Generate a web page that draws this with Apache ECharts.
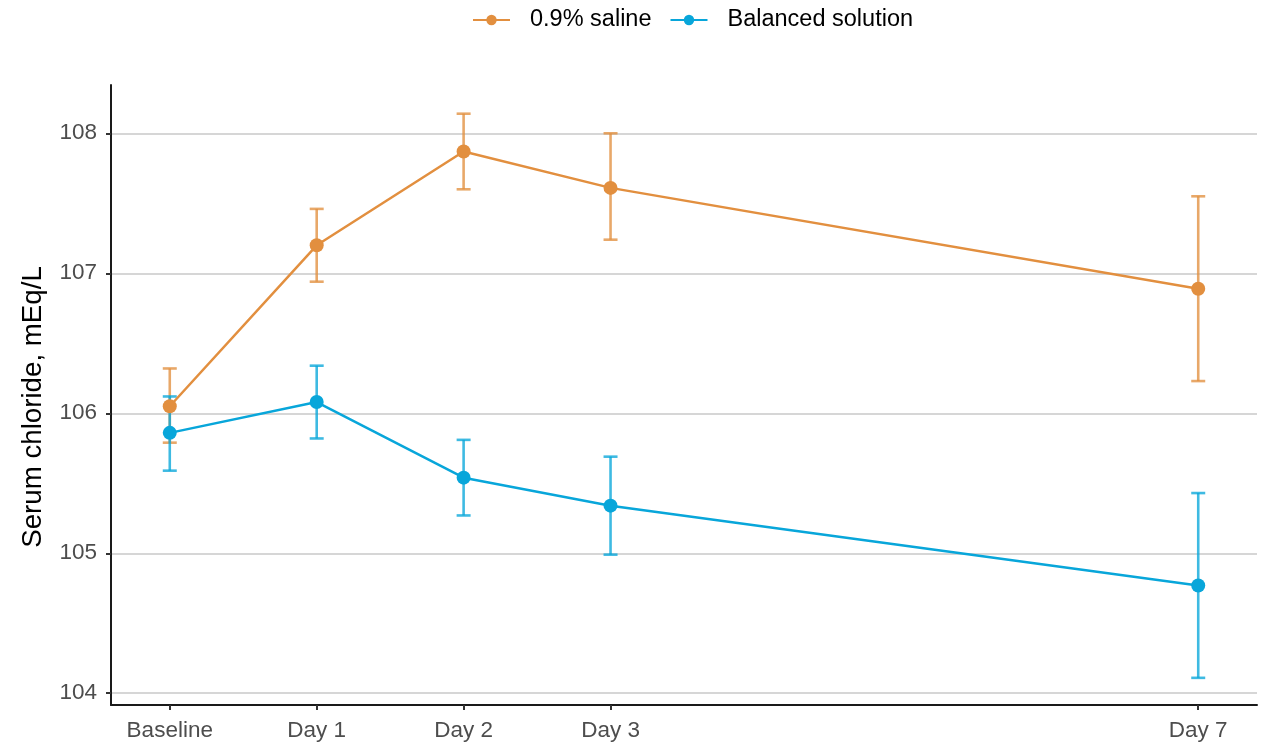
<!DOCTYPE html>
<html>
<head>
<meta charset="utf-8">
<script src="https://cdn.jsdelivr.net/npm/echarts@6/dist/echarts.min.js"></script>
<style>
  html, body { margin: 0; padding: 0; background: #fff; }
  #chart { width: 1268px; height: 744px; }
</style>
</head>
<body>
<div id="chart"></div>
<script>
// Time points (days from baseline) and their labels
const xPos = [0, 1, 2, 3, 7];
const xLabels = ['Baseline', 'Day 1', 'Day 2', 'Day 3', 'Day 7'];
const yTicks = [104, 105, 106, 107, 108];

// Serum chloride (mEq/L): mean with lower/upper interval bounds
const salineMean = [106.05, 107.20, 107.87, 107.61, 106.89];
const salineLow  = [105.79, 106.94, 107.60, 107.24, 106.23];
const salineHigh = [106.32, 107.46, 108.14, 108.00, 107.55];

const balancedMean = [105.86, 106.08, 105.54, 105.34, 104.77];
const balancedLow  = [105.59, 105.82, 105.27, 104.99, 104.11];
const balancedHigh = [106.12, 106.34, 105.81, 105.69, 105.43];

const ORANGE = '#E28F3F';
const BLUE = '#08A6DA';
const FONT = '"Liberation Sans", Arial, sans-serif';

function errorBarRenderer(color) {
  return function (params, api) {
    const x = api.value(0);
    const lo = api.coord([x, api.value(1)]);
    const hi = api.coord([x, api.value(2)]);
    const w = 7;
    const style = { stroke: color, lineWidth: 2.6, opacity: 0.78 };
    return {
      type: 'group',
      children: [
        { type: 'line', shape: { x1: lo[0], y1: lo[1], x2: hi[0], y2: hi[1] }, style: style },
        { type: 'line', shape: { x1: hi[0] - w, y1: hi[1], x2: hi[0] + w, y2: hi[1] }, style: style },
        { type: 'line', shape: { x1: lo[0] - w, y1: lo[1], x2: lo[0] + w, y2: lo[1] }, style: style }
      ]
    };
  };
}

const salineBars = xPos.map((x, i) => [x, salineLow[i], salineHigh[i]]);
const balancedBars = xPos.map((x, i) => [x, balancedLow[i], balancedHigh[i]]);
const salinePts = xPos.map((x, i) => [x, salineMean[i]]);
const balancedPts = xPos.map((x, i) => [x, balancedMean[i]]);

const chart = echarts.init(document.getElementById('chart'), null, { renderer: 'canvas' });

chart.setOption({
  animation: false,
  backgroundColor: '#ffffff',
  textStyle: { fontFamily: FONT },
  legend: {
    data: ['0.9% saline', 'Balanced solution'],
    left: 467,
    top: 3,
    itemWidth: 37,
    itemHeight: 13,
    itemGap: 18,
    textStyle: { fontSize: 23.5, color: '#000', fontFamily: FONT, padding: [0, 0, 0, 15] }
  },
  grid: { left: 111, right: 11, top: 85, bottom: 39, containLabel: false },
  xAxis: {
    type: 'value',
    min: -0.4,
    max: 7.4,
    splitLine: { show: false },
    axisLine: { show: true, onZero: false, lineStyle: { color: '#1a1a1a', width: 2 } },
    axisTick: { show: true, customValues: xPos, length: 5, lineStyle: { color: '#333', width: 2 } },
    axisLabel: {
      customValues: xPos,
      formatter: function (v) { return xLabels[xPos.indexOf(v)]; },
      fontSize: 22.5,
      color: '#4d4d4d',
      margin: 14,
      fontFamily: FONT
    }
  },
  yAxis: {
    type: 'value',
    min: 103.916,
    max: 108.345,
    name: 'Serum chloride, mEq/L',
    nameLocation: 'middle',
    nameGap: 64,
    nameTextStyle: { fontSize: 27.7, color: '#000', fontFamily: FONT, padding: [0, 24, 0, 0] },
    axisLine: { show: true, onZero: false, lineStyle: { color: '#1a1a1a', width: 2 } },
    axisTick: { show: true, customValues: yTicks, length: 5, lineStyle: { color: '#333', width: 2 } },
    axisLabel: { customValues: yTicks, fontSize: 22.5, color: '#4d4d4d', margin: 14, fontFamily: FONT },
    splitLine: { show: true, lineStyle: { color: '#d6d6d6', width: 2 } }
  },
  series: [
    {
      name: '0.9% saline CI',
      type: 'custom',
      renderItem: errorBarRenderer(ORANGE),
      encode: { x: 0, y: [1, 2] },
      data: salineBars
    },
    {
      name: '0.9% saline',
      type: 'line',
      data: salinePts,
      symbol: 'circle',
      symbolSize: 14,
      itemStyle: { color: ORANGE },
      lineStyle: { color: ORANGE, width: 2.5 }
    },
    {
      name: 'Balanced solution CI',
      type: 'custom',
      renderItem: errorBarRenderer(BLUE),
      encode: { x: 0, y: [1, 2] },
      data: balancedBars
    },
    {
      name: 'Balanced solution',
      type: 'line',
      data: balancedPts,
      symbol: 'circle',
      symbolSize: 14,
      itemStyle: { color: BLUE },
      lineStyle: { color: BLUE, width: 2.5 }
    }
  ]
});
</script>
</body>
</html>
